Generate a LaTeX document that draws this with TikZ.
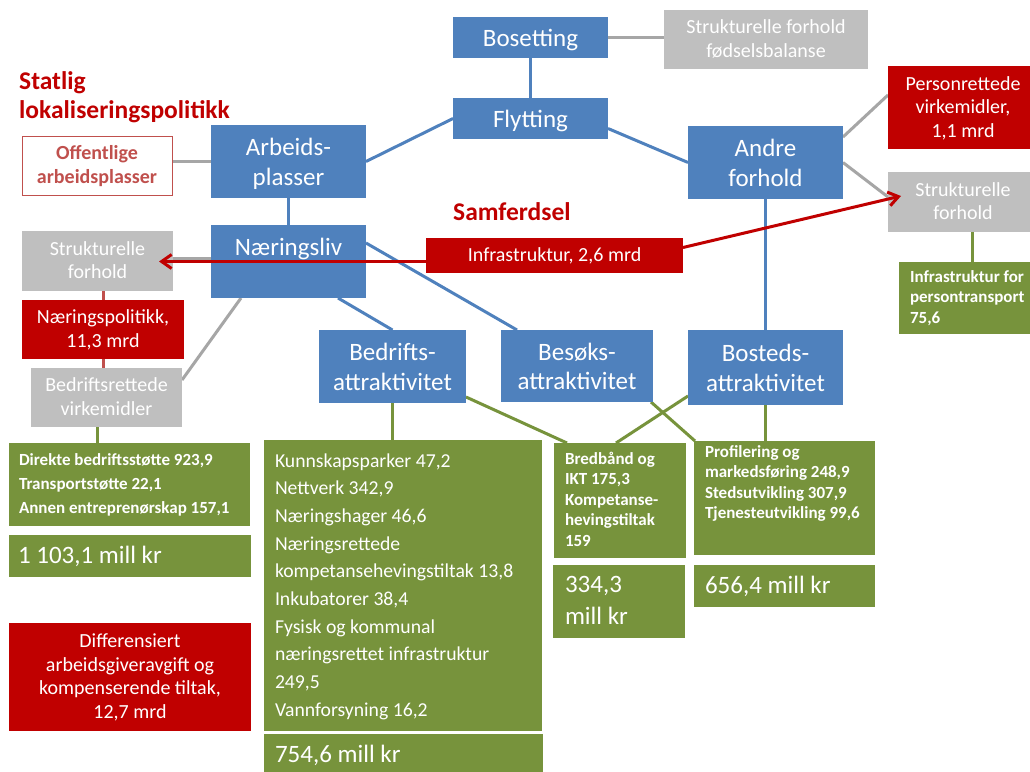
\documentclass[tikz,border=0pt]{standalone}
\usepackage{fontspec}
\setmainfont{Carlito}
\usetikzlibrary{arrows.meta,calc}
\definecolor{cblue}{HTML}{4F81BD}
\definecolor{cred}{HTML}{C00000}
\definecolor{cgray}{HTML}{BFBFBF}
\definecolor{cgreen}{HTML}{77933C}
\definecolor{cmred}{HTML}{C0504D}
\definecolor{lgray}{HTML}{A6A6A6}
\pgfdeclarelayer{bg}
\pgfsetlayers{bg,main}
\tikzset{
  txt/.style n args={5}{font={\fontsize{#1}{#2}\selectfont#5},
    execute at begin node={\leavevmode\vrule height #3pt depth 0pt width 0pt\relax},
    execute at end node={\vrule height 0pt depth #4pt width 0pt\relax}},
  wh/.style n args={2}{minimum width=#1pt, minimum height=#2pt, text width=#1pt, align=flush center},
  lwh/.style n args={3}{minimum width=#1pt, minimum height=#2pt, inner xsep=#3pt, text width={(#1-2*#3)*1pt}, align=flush left},
  boxbase/.style={rectangle, inner sep=0pt, outer sep=0pt, text=white},
  bluebox/.style={boxbase, fill=cblue, txt={25}{29.5}{23.5}{5.5}{}},
  graybox/.style={boxbase, fill=cgray, txt={20}{23.5}{16.5}{4.5}{}},
  redbox/.style={boxbase, fill=cred, txt={20}{23.5}{16.5}{4.5}{}},
  offbox/.style={boxbase, fill=white, draw=cmred, line width=1pt, text=cmred, txt={20}{23.5}{16.5}{4.5}{\bfseries}},
  greenbox/.style={boxbase, fill=cgreen},
  smallbold/.style={txt={17}{20.5}{13.2}{4}{\bfseries}},
  totaltxt/.style={txt={25}{31.5}{19.5}{5.5}{}},
  titletxt/.style={text=cred, inner sep=0pt, font=\fontsize{25.5}{29}\selectfont\bfseries},
  blueline/.style={draw=cblue, line width=3pt},
  grayline/.style={draw=lgray, line width=3pt},
  greenline/.style={draw=cgreen, line width=3pt},
  mredline/.style={draw=cmred, line width=3pt},
  redarrow/.style={draw=cred, line width=3pt, -{Straight Barb[length=10pt,width=14pt]}},
}
\begin{document}
\begin{tikzpicture}[x=1pt,y=-1pt]
\useasboundingbox (0,0) rectangle (1030,771);

% titles
\node[titletxt, txt={25.5}{29}{23.5}{5.5}{\bfseries}, text width=260pt, align=flush left, anchor=north west] (stat) at (19,65.5) {Statlig\\lokaliseringspolitikk};
\node[titletxt, anchor=base west] (samf) at (453,220.5) {Samferdsel};

% top
\node[bluebox, wh={155}{41}] (bos) at (530.5,37.5) {Bosetting};
\node[graybox, wh={204}{59}] (fod) at (766,39.5) {Strukturelle forhold\\fødselsbalanse};
\node[bluebox, wh={155}{41}] (fly) at (530.5,118.5) {Flytting};
\node[bluebox, wh={155}{73}] (arb) at (288.5,161.5) {Arbeids-\\plasser};
\node[offbox, wh={150}{59}] (off) at (97,165.5) {Offentlige\\arbeidsplasser};
\node[bluebox, wh={155}{73}] (nar) at (288.5,261.5) {Næringsliv\\\mbox{}};
\node[bluebox, wh={155}{73}] (and) at (765.5,162.5) {Andre\\forhold};

% left column
\node[graybox, wh={151}{60}] (strL) at (97.5,261) {Strukturelle\\forhold};
\node[redbox, wh={162}{59}] (np) at (103,329.5) {Næringspolitikk,\\11,3 mrd};
\node[graybox, wh={151}{59}] (brv) at (106.5,397.5) {Bedriftsrettede\\virkemidler};
\node[greenbox, txt={17}{24}{14}{4}{\bfseries}, lwh={241}{83}{10}] (dir) at (129.5,484.5) {Direkte bedriftsstøtte 923,9\\Transportstøtte 22,1\\Annen entreprenørskap 157,1};
\node[greenbox, totaltxt, lwh={242}{42}{9}] (tot1) at (130,556) {1 103,1 mill kr};
\node[redbox, wh={242}{108}] (dif) at (130,677) {Differensiert\\arbeidsgiveravgift og\\kompenserende tiltak,\\12,7 mrd};

% middle
\node[redbox, wh={257}{35}] (inf) at (554.5,255.5) {Infrastruktur, 2,6 mrd};
\node[bluebox, wh={147}{73}] (bed) at (392.5,366.5) {Bedrifts-\\attraktivitet};
\node[bluebox, wh={152}{72}] (bes) at (577,366) {Besøks-\\attraktivitet};
\node[bluebox, wh={155}{75}] (bst) at (765.5,367.5) {Bosteds-\\attraktivitet};

\node[greenbox, txt={19.7}{27.7}{16.8}{4.5}{}, lwh={278}{291}{11}] (big) at (403,585.5) {Kunnskapsparker 47,2\\Nettverk 342,9\\Næringshager 46,6\\Næringsrettede\\kompetansehevingstiltak 13,8\\Inkubatorer 38,4\\Fysisk og kommunal\\næringsrettet infrastruktur\\249,5\\Vannforsyning 16,2};
\node[greenbox, totaltxt, lwh={279}{42}{11}] (tot2) at (403.5,755) {754,6 mill kr};

\node[greenbox, smallbold, lwh={132}{115}{11}] (bred) at (620,500.5) {Bredbånd og\\IKT 175,3\\Kompetanse-\\hevingstiltak\\159};
\node[greenbox, totaltxt, lwh={132}{73}{12}] (tot3) at (619,601.5) {334,3\\mill kr};

\node[greenbox, smallbold, lwh={181}{114}{11}] (pro) at (784.5,498) {Profilering og\\markedsføring 248,9\\Stedsutvikling 307,9\\Tjenesteutvikling 99,6\\[9pt]\mbox{}};
\node[greenbox, totaltxt, lwh={181}{42}{11}] (tot4) at (784.5,586) {656,4 mill kr};

% right
\node[redbox, wh={150}{83}] (per) at (963,107.5) {Personrettede\\virkemidler,\\1,1 mrd};
\node[graybox, wh={150}{60}] (strR) at (963,202) {Strukturelle\\forhold};
\node[greenbox, smallbold, lwh={147}{72}{11}] (pt) at (972.5,298) {Infrastruktur for\\persontransport\\75,6};

% helper coordinates
\coordinate (g1) at ($(nar.west)+(0,-3.5)$);
\coordinate (g2) at ($(brv.south)+(-9.5,0)$);
\coordinate (g3) at ($(strR.south)+(9,0)$);

\begin{pgfonlayer}{bg}
\fill[white] (0,0) rectangle (1030,771);
\draw[grayline] (bos.east) -- (bos.east -| fod.west);
\draw[blueline] (bos.south) -- (fly.north);
\draw[blueline] (fly.west) -- (arb.east);
\draw[blueline] ($(fly.east)+(0,10)$) -- (and.west);
\draw[grayline] (arb.west) -- (arb.west -| off.east);
\draw[blueline] (arb.south) -- (nar.north);
\draw[grayline] (g1) -- (g1 -| strL.east);
\draw[mredline] (np.north) -- (np.north |- strL.south);
\draw[mredline] (np.south) -- (np.south |- brv.north);
\draw[grayline] ($(nar.south west)+(30,0)$) -- ($(brv.north east)+(0,12)$);
\draw[greenline] (g2) -- (g2 |- dir.north);
\draw[blueline] ($(nar.north east)+(0,18)$) -- ($(bes.north west)+(16,0)$);
\draw[blueline] ($(nar.south east)+(-28,0)$) -- (bed.north);
\draw[blueline] (and.south) -- (bst.north);
\draw[grayline] ($(and.north east)+(0,11)$) -- ($(per.north west)+(0,29)$);
\draw[grayline] (and.east) -- ($(strR.west)+(0,-5)$);
\draw[greenline] (g3) -- (g3 |- pt.north);
\draw[greenline] (bed.south) -- (bed.south |- big.north);
\draw[greenline] ($(bed.south east)+(0,-6)$) -- ($(bred.north west)+(13,0)$);
\draw[greenline] ($(bst.south west)+(0,-9)$) -- ($(bred.north)+(-4,0)$);
\draw[greenline] ($(bes.south east)+(-2,0)$) -- ($(pro.north west)+(1,0)$);
\draw[greenline] (bst.south) -- (bst.south |- pro.north);
\end{pgfonlayer}

% red arrows on top
\coordinate (r1) at ($(inf.west)+(0,6)$);
\draw[redarrow] (r1) -- ($(r1 -| strL.east)+(-14,0)$);
\draw[redarrow] ($(inf.east)+(0,-8)$) -- ($(strR.west)+(13,-6)$);
\end{tikzpicture}
\end{document}
